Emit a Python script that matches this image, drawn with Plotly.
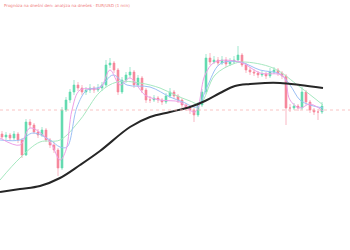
import plotly.graph_objects as go

idx = list(range(81))
opens = [116,113,115,112,116,110,95,128,125,118,115,120,110,105,100,82,140,150,158,165,
         162,158,160,162,160,162,165,185,187,180,158,170,175,178,165,172,160,150,150,152,
         150,148,154,158,154,150,145,142,140,135,145,158,192,188,190,187,190,186,188,190,
         195,185,180,178,177,175,176,174,178,180,177,174,142,142,144,142,158,148,140,138,138]
closes = [113,115,112,116,110,95,128,125,118,115,120,110,105,100,82,140,150,158,165,162,
          158,160,162,160,162,165,185,187,180,158,170,175,178,165,172,160,150,150,152,150,
          148,154,158,154,150,145,142,140,135,145,158,192,188,190,187,190,186,188,190,195,
          185,180,178,177,175,176,174,178,180,177,174,142,142,144,142,158,148,140,138,138,144]
highs = [119,118,117,119,118,112,131,131,127,121,123,122,112,108,102,143,153,161,170,168,
         165,163,166,164,166,168,190,192,189,182,173,178,183,180,175,174,162,154,155,154,
         152,157,162,160,156,152,147,144,142,148,161,196,197,194,193,194,193,192,194,204,
         197,187,183,181,179,179,178,182,183,182,179,176,146,147,146,163,160,150,142,141,148]
lows = [111,110,109,110,107,92,94,122,116,112,113,108,102,97,74,80,138,147,155,159,
        155,155,157,157,158,159,163,182,177,155,156,167,172,162,163,157,147,147,148,147,
        145,146,152,151,147,142,139,136,128,133,143,156,185,186,184,185,183,184,186,188,
        183,177,175,174,172,173,171,172,176,174,171,125,138,140,139,140,145,137,135,130,136]

ma_black_x = [-0.5,4.5,9.5,14.5,19.5,24.5,32,37,42,47,50.75,54.5,58.25,62,65.75,69.5,74.5,80.25]
ma_black_y = [58,61,64,72,85,99,123,133,138,143,149,157,164,166,167,167,165,162]

ma_green_x = [-0.5,4.5,9.5,14.5,19.5,24.5,28.75,34.5,39.5,43.25,47,49.5,53.25,57.75,60.25,67.75,74.5,80.25]
ma_green_y = [70,92,108,110,130,158,168,167,162,155,149,146,175,186,188,182,163,145]

ma_blue_x = [-0.5,4.5,7.75,12,14.5,16.25,18.75,21.25,24.5,27.75,31.25,37,42,45.25,48.75,51.25,54.5,59.5,64.5,69.5,72,74.5,77,80.25]
ma_blue_y = [110,110,117,110,103,103,143,160,163,175,165,163,153,148,143,163,186,188,180,176,165,150,145,142]

ma_pink_x = [-0.5,4.5,7,12,14.5,16,17.5,19.5,24.5,27,29.5,32,35.75,39.5,44.5,48.25,50.75,53.25,59.5,64.5,70.25,72,74.5,77,80.25]
ma_pink_y = [112,105,122,108,90,100,140,160,162,180,165,172,155,150,148,138,175,188,188,177,174,150,142,146,139]

ref_level = 140
title_text = "Prognóza na dnešní den: analýza na dnešek · EUR/USD (1 min)"

fig = go.Figure()
fig.add_trace(go.Scatter(x=ma_green_x, y=ma_green_y, mode="lines", line=dict(color="#a6e8c0", width=1, shape="spline"), hoverinfo="skip"))
fig.add_trace(go.Scatter(x=ma_blue_x, y=ma_blue_y, mode="lines", line=dict(color="#9cc0f5", width=1, shape="spline"), hoverinfo="skip"))
fig.add_trace(go.Scatter(x=ma_pink_x, y=ma_pink_y, mode="lines", line=dict(color="#ee9fe6", width=1, shape="spline"), hoverinfo="skip"))
fig.add_trace(go.Candlestick(x=idx, open=opens, high=highs, low=lows, close=closes,
                             increasing=dict(line=dict(color="#2fcf95", width=0.6), fillcolor="#2fcf95"),
                             decreasing=dict(line=dict(color="#f4607a", width=0.6), fillcolor="#f4607a"),
                             whiskerwidth=0, opacity=0.75))
fig.add_trace(go.Scatter(x=ma_black_x, y=ma_black_y, mode="lines", line=dict(color="#262626", width=2, shape="spline"), hoverinfo="skip"))

fig.add_hline(y=ref_level, line=dict(color="#f7b5b5", width=0.8, dash="dot"))

fig.add_annotation(text=title_text, x=0.005, y=0.995, xref="paper", yref="paper", xanchor="left", yanchor="top",
                   showarrow=False, font=dict(size=4, color="#f07c7c", family="DejaVu Sans"))

fig.update_layout(width=350, height=250, margin=dict(l=0, r=0, t=0, b=0),
                  paper_bgcolor="white", plot_bgcolor="white", showlegend=False,
                  xaxis=dict(range=[-0.5, 87], visible=False, rangeslider=dict(visible=False)),
                  yaxis=dict(range=[0, 250], visible=False))
fig.write_html("out.html")
